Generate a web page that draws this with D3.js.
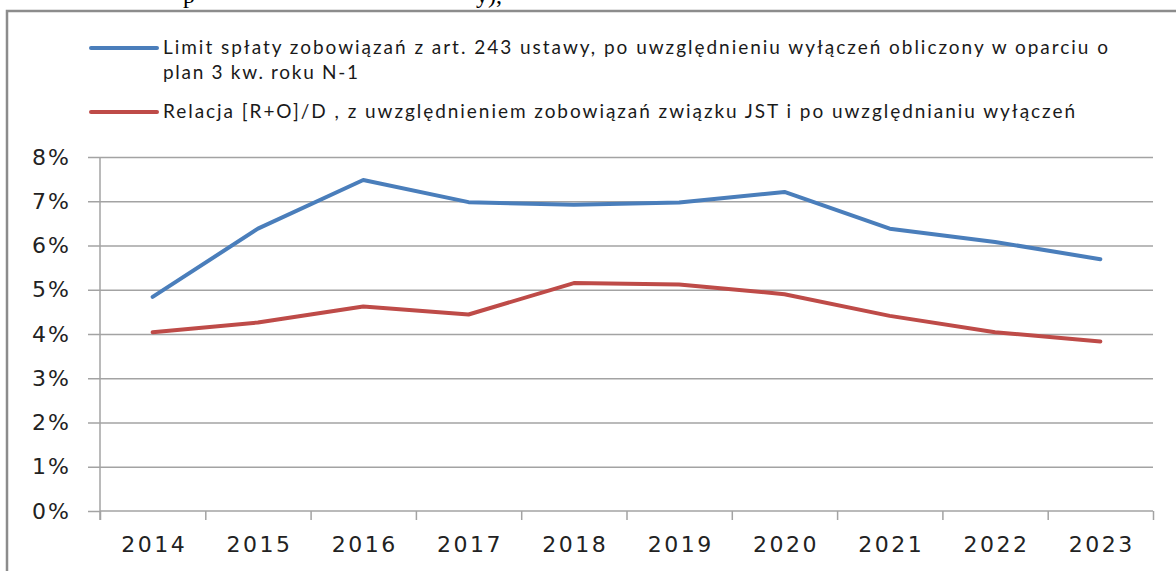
<!DOCTYPE html>
<html>
<head>
<meta charset="utf-8">
<script src="https://cdn.jsdelivr.net/npm/d3@7"></script>
<style>
  html, body { margin: 0; padding: 0; background: #fff; }
  svg { display: block; }
</style>
</head>
<body>
<div id="chart"></div>
<script>
// values (percent)
const years = ["2014", "2015", "2016", "2017", "2018", "2019", "2020", "2021", "2022", "2023"];
const limitValues = [4.84, 6.38, 7.48, 6.98, 6.92, 6.97, 7.21, 6.38, 6.08, 5.69];
const relationValues = [4.04, 4.26, 4.62, 4.44, 5.15, 5.12, 4.9, 4.41, 4.04, 3.83];
const yTicks = [0, 1, 2, 3, 4, 5, 6, 7, 8];

const limitLabel = ["Limit spłaty zobowiązań z art. 243 ustawy, po uwzględnieniu wyłączeń obliczony w oparciu o", "plan 3 kw. roku N-1"];
const relationLabel = ["Relacja [R+O]/D , z uwzględnieniem zobowiązań związku JST i po uwzględnianiu wyłączeń"];

const WIDTH = 1176;
const HEIGHT = 571;
const PLOT = { LEFT: 100, RIGHT: 1153, TOP: 157, BOTTOM: 511 };
const FONT = "Lato, 'Open Sans', sans-serif";
const AXIS_FONT = "'DejaVu Sans', sans-serif";
const GRID = "#a3a3a3";

const series = [
  { name: "limit", values: limitValues, color: "#4A7EBB", label: limitLabel, widths: [945, 195], legendY: 48 },
  { name: "relation", values: relationValues, color: "#BE4B48", label: relationLabel, widths: [912], legendY: 112 },
];

const svg = d3.select("#chart")
  .append("svg")
  .attr("width", WIDTH)
  .attr("height", HEIGHT);

// bits of the page text above the chart, cut off at the top as in the source
svg.append("text")
  .attr("x", 183).attr("y", 3)
  .style("font-family", "'Liberation Serif', serif")
  .style("font-size", "24px")
  .attr("fill", "#000")
  .text("p");
svg.append("text")
  .attr("x", 476).attr("y", 3)
  .style("font-family", "'Liberation Serif', serif")
  .style("font-size", "24px")
  .attr("fill", "#000")
  .text("y),");

// chart frame (only top and left edge in view)
svg.append("path")
  .attr("d", `M${WIDTH + 5},11 H7 V${HEIGHT + 5}`)
  .attr("fill", "none")
  .attr("stroke", "#8c8c8c")
  .attr("stroke-width", 2.5);

const x = d3.scaleBand(years, [PLOT.LEFT, PLOT.RIGHT]);
const xEdge = d3.scaleLinear([0, years.length], [PLOT.LEFT, PLOT.RIGHT]);
const y = d3.scaleLinear([0, 8], [PLOT.BOTTOM, PLOT.TOP]);

// horizontal gridlines
svg.append("g")
  .attr("transform", `translate(${PLOT.LEFT},0)`)
  .call(d3.axisLeft(y).tickValues(yTicks.slice(1)).tickSize(-(PLOT.RIGHT - PLOT.LEFT)).tickFormat(""))
  .call((g) => g.select(".domain").remove())
  .call((g) => g.selectAll("line").attr("stroke", GRID).attr("stroke-width", 1.5));

// y axis
svg.append("g")
  .attr("transform", `translate(${PLOT.LEFT},0)`)
  .call(d3.axisLeft(y).tickValues(yTicks).tickSize(12).tickPadding(19).tickFormat((d) => `${d}%`))
  .call((g) => g.select(".domain").attr("d", `M0,${PLOT.TOP}V${PLOT.BOTTOM + 9}`).attr("stroke", GRID).attr("stroke-width", 1.5))
  .call((g) => g.selectAll("line").attr("stroke", GRID).attr("stroke-width", 1.5))
  .call((g) => g.selectAll("text")
    .attr("dx", 2)
    .style("font-family", AXIS_FONT)
    .style("font-size", "22px")
    .style("letter-spacing", "2px")
    .attr("fill", "#222"));

// x axis: tick marks on category boundaries
svg.append("g")
  .attr("transform", `translate(0,${PLOT.BOTTOM})`)
  .call(d3.axisBottom(xEdge).tickValues(d3.range(years.length + 1)).tickSize(9).tickFormat(""))
  .call((g) => g.select(".domain").attr("d", `M${PLOT.LEFT},0H${PLOT.RIGHT}`).attr("stroke", GRID).attr("stroke-width", 1.5))
  .call((g) => g.selectAll("line").attr("stroke", GRID).attr("stroke-width", 1.5));

// x axis labels at category centres
svg.append("g")
  .attr("transform", `translate(0,${PLOT.BOTTOM})`)
  .call(d3.axisBottom(x).tickSize(0).tickPadding(25))
  .call((g) => g.select(".domain").remove())
  .call((g) => g.selectAll("text")
    .attr("dx", 1.5)
    .style("font-family", AXIS_FONT)
    .style("font-size", "22px")
    .style("letter-spacing", "2.5px")
    .attr("fill", "#222"));

// lines
const line = d3.line()
  .x((d, i) => x(years[i]) + x.bandwidth() / 2)
  .y((d) => y(d));

svg.selectAll(".series")
  .data(series)
  .join("path")
  .attr("class", "series")
  .attr("d", (s) => line(s.values))
  .attr("fill", "none")
  .attr("stroke", (s) => s.color)
  .attr("stroke-width", 4)
  .attr("stroke-linejoin", "round")
  .attr("stroke-linecap", "round");

// legend
const legend = svg.append("g").attr("class", "legend");
series.forEach((s) => {
  legend.append("line")
    .attr("x1", 91).attr("x2", 157)
    .attr("y1", s.legendY).attr("y2", s.legendY)
    .attr("stroke", s.color)
    .attr("stroke-width", 4)
    .attr("stroke-linecap", "round");

  s.label.forEach((txt, i) => {
    legend.append("text")
      .attr("x", 163)
      .attr("y", s.legendY + 6 + i * 25)
      .attr("textLength", s.widths[i])
      .attr("lengthAdjust", "spacing")
      .style("font-family", FONT)
      .style("font-size", "19px")
      .attr("fill", "#1a1a1a")
      .text(txt);
  });
});
</script>
</body>
</html>
